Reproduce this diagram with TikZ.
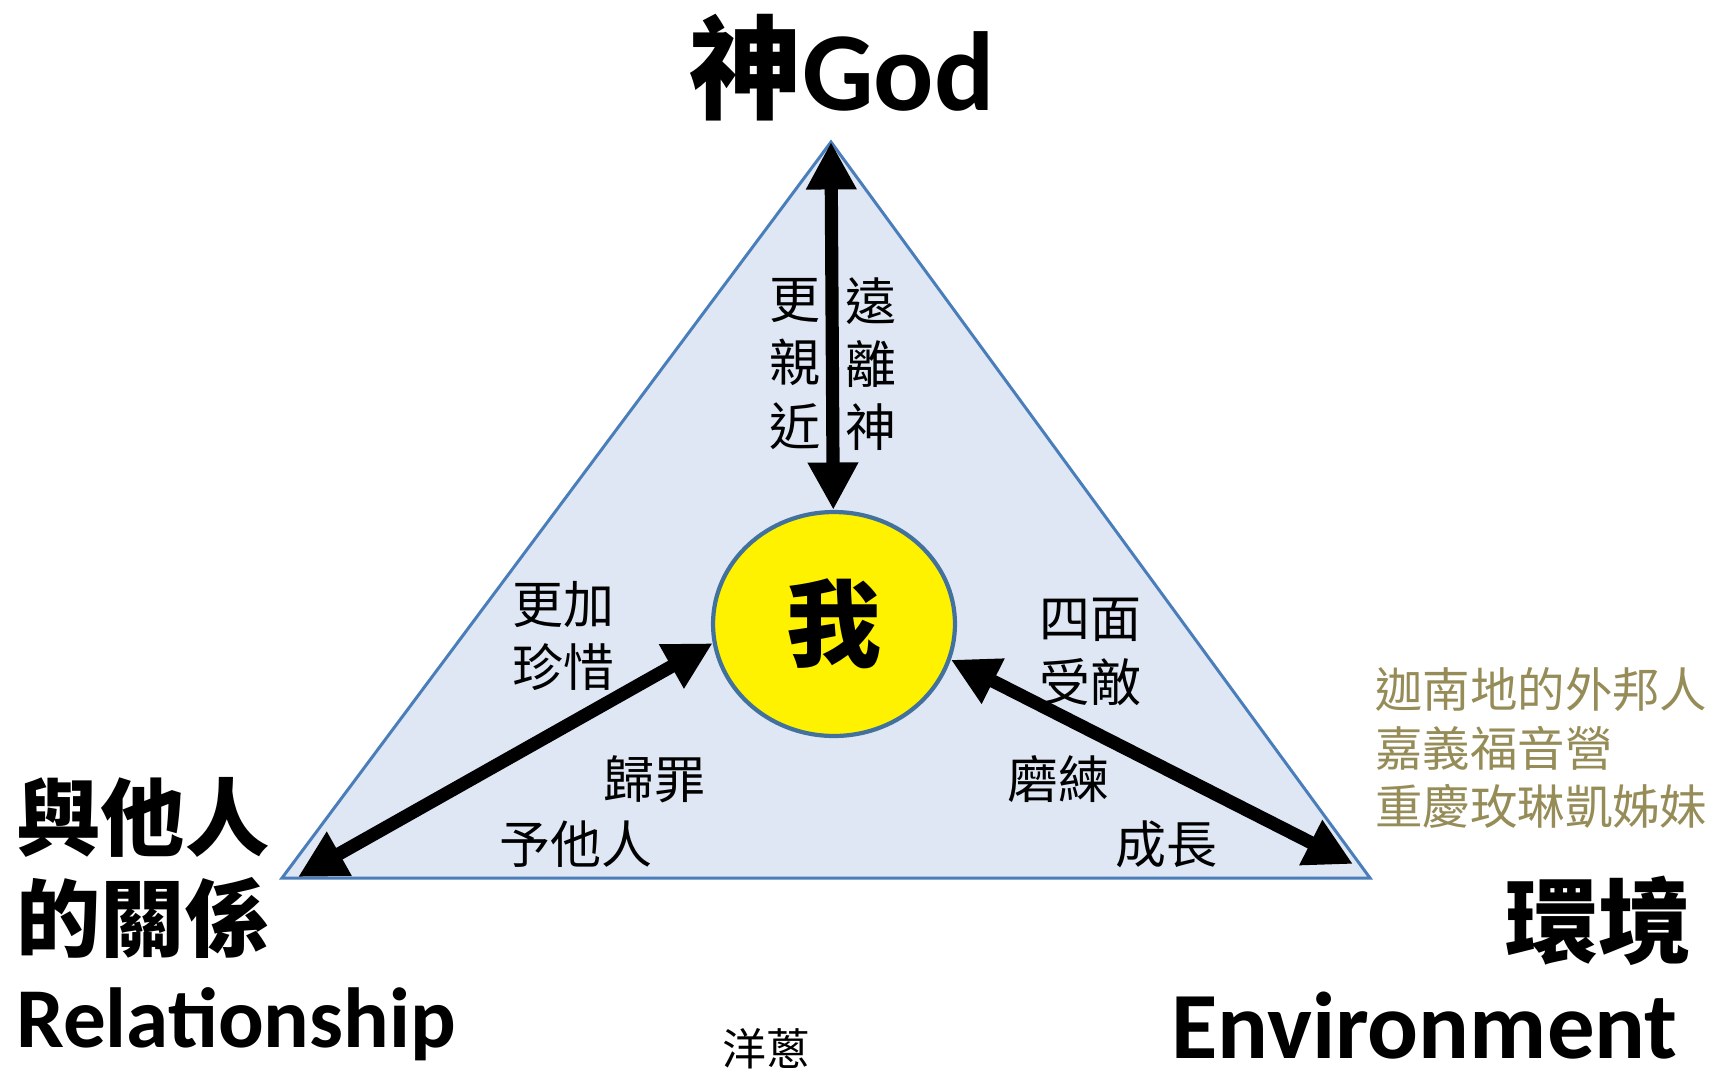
\documentclass[tikz,border=0pt]{standalone}
\usepackage{fontspec}
\setsansfont{Carlito}
\newfontfamily\cjk{Noto Sans CJK TC}
\usepackage{tikz}
\usetikzlibrary{shapes.geometric, arrows.meta, positioning}
\definecolor{triFill}{RGB}{222,231,243}
\definecolor{triEdge}{RGB}{74,126,187}
\definecolor{meEdge}{RGB}{65,113,156}
\definecolor{campOlive}{RGB}{150,140,88}
\tikzset{
    base/.style={inner sep=0pt, align=center},
    corner/.style={base, font=\cjk\bfseries\fontsize{48}{57}\selectfont},
    engword/.style={base, font=\sffamily\bfseries\fontsize{50}{60}\selectfont},
    small/.style={base, font=\cjk\fontsize{29}{36}\selectfont},
    tri/.style={draw=triEdge, line width=1.7pt, fill=triFill, line join=miter},
    me/.style={ellipse, draw=meEdge, line width=2.4pt, fill=yellow, inner sep=0pt,
        minimum width=4.84cm, minimum height=4.48cm, font=\cjk\bfseries\fontsize{54}{60}\selectfont},
    bigarrow/.style={draw=black, line width=7.5pt, {Triangle[length=27pt, width=27pt]}-{Triangle[length=27pt, width=27pt]}}
}
\begin{document}
\begin{tikzpicture}[x=0.02cm, y=-0.02cm]
    \useasboundingbox (0,0) rectangle (1714,1072);
    \coordinate (top) at (831,142);
    \coordinate (left) at (282,878);
    \coordinate (right) at (1370,878);
    \coordinate (relEnd) at (298,877);
    \coordinate (envEnd) at (1353,864);

    \draw [tri] (top) -- (left) -- (right) -- cycle;
    \node [me] (self) at (834,624) {我};

    \path [bigarrow] (top) -- (self);
    \path [bigarrow] (relEnd) -- (self.189);
    \path [bigarrow] (self.343) -- (envEnd);

    % corners
    \node [base, font=\fontsize{64}{70}\selectfont] (God) at (842,68) {{\cjk\bfseries 神}{\sffamily\bfseries God}};
    \node [corner, anchor=west] (Others) at (16,868) {與他人\\的關係};
    \node [engword, font=\sffamily\bfseries\fontsize{48.5}{58}\selectfont, anchor=west] (Relation) at (16,1024) {Relationship};
    \node [corner, font=\cjk\bfseries\fontsize{53}{60}\selectfont, anchor=east] (Env) at (1692,921) {環境};
    \node [engword, font=\sffamily\bfseries\fontsize{54}{60}\selectfont, text depth=0pt, anchor=base east] (EnvWord) at (1678,1058) {Environment};

    % inside labels
    \node [small] (Closer) at (795,364) {更\\親\\近};
    \node [small] (Away) at (871,364) {遠\\離\\神};
    \node [small] (Cherish) at (563,636) {更加\\珍惜};
    \node [small] (Enemy) at (1090,652) {四面\\受敵};
    \node [small] (Blame) at (654,779) {歸罪};
    \node [small] (ToOthers) at (576,844) {予他人};
    \node [small] (Train) at (1058,779) {磨練};
    \node [small] (Grow) at (1166,844) {成長};

    \node [base, anchor=west, text=campOlive, align=left, font=\cjk\fontsize{27}{33.5}\selectfont] (Camp) at (1375,748) {迦南地的外邦人\\嘉義福音營\\重慶玫琳凱姊妹};
    \node [base, font=\cjk\fontsize{25}{30}\selectfont] (Onion) at (766,1049) {洋蔥};
\end{tikzpicture}
\end{document}
